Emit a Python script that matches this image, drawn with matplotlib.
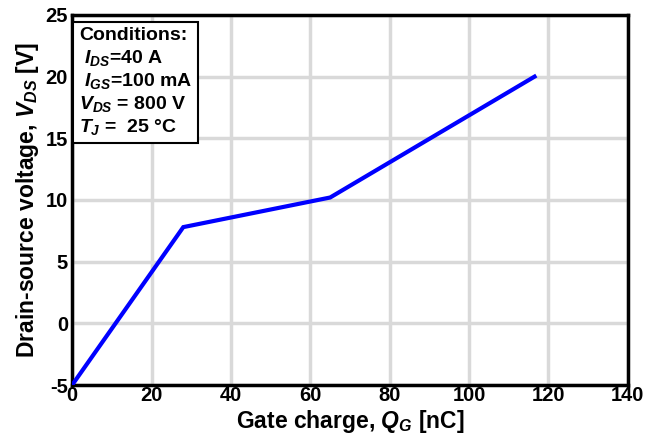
import matplotlib
matplotlib.use("Agg")
import matplotlib.pyplot as plt

# gate charge curve, QG in nC vs VDS in V
qg = [0, 28, 65, 116.5]
vds = [-5, 7.8, 10.2, 20.0]

xticks = [0, 20, 40, 60, 80, 100, 120, 140]
yticks = [-5, 0, 5, 10, 15, 20, 25]

plt.rcParams["font.family"] = "Liberation Sans"
plt.rcParams["font.weight"] = "bold"
plt.rcParams["axes.labelweight"] = "bold"
plt.rcParams["axes.unicode_minus"] = False
plt.rcParams["mathtext.fontset"] = "custom"
plt.rcParams["mathtext.rm"] = "Liberation Sans:bold"
plt.rcParams["mathtext.it"] = "Liberation Sans:italic:bold"
plt.rcParams["mathtext.bf"] = "Liberation Sans:bold"

fig = plt.figure(figsize=(6.56, 4.4), dpi=100)
ax = fig.add_axes([0.11, 0.125, 0.847, 0.841])

ax.plot(qg, vds, color="#0000ff", lw=3, solid_joinstyle="miter", zorder=3)

ax.set_xlim(0, 140)
ax.set_ylim(-5, 25)
ax.set_xticks(xticks)
ax.set_yticks(yticks)
ax.grid(True, color="#d9d9d9", lw=2.5)
ax.tick_params(length=0, labelsize=14.5)
ax.tick_params(axis="x", pad=1)
ax.tick_params(axis="y", pad=3)
for s in ax.spines.values():
    s.set_linewidth(2.5)

ax.set_xlabel("Gate charge, $Q_G$ [nC]", fontsize=16.5, labelpad=2)
ax.set_ylabel("Drain-source voltage, $V_{DS}$ [V]", fontsize=16.5, labelpad=3)

txt = ("Conditions:\n"
       " $I_{DS}$=40 A\n"
       " $I_{GS}$=100 mA\n"
       "$V_{DS}$ = 800 V\n"
       "$T_J$ =  25 \u00b0C")
ax.text(1.7, 24.0, txt, fontsize=14, va="top", ha="left", linespacing=1.22,
        bbox=dict(boxstyle="square,pad=0.3", fc="white", ec="black", lw=1.5),
        zorder=4)

fig.savefig("out.png", dpi=100)
